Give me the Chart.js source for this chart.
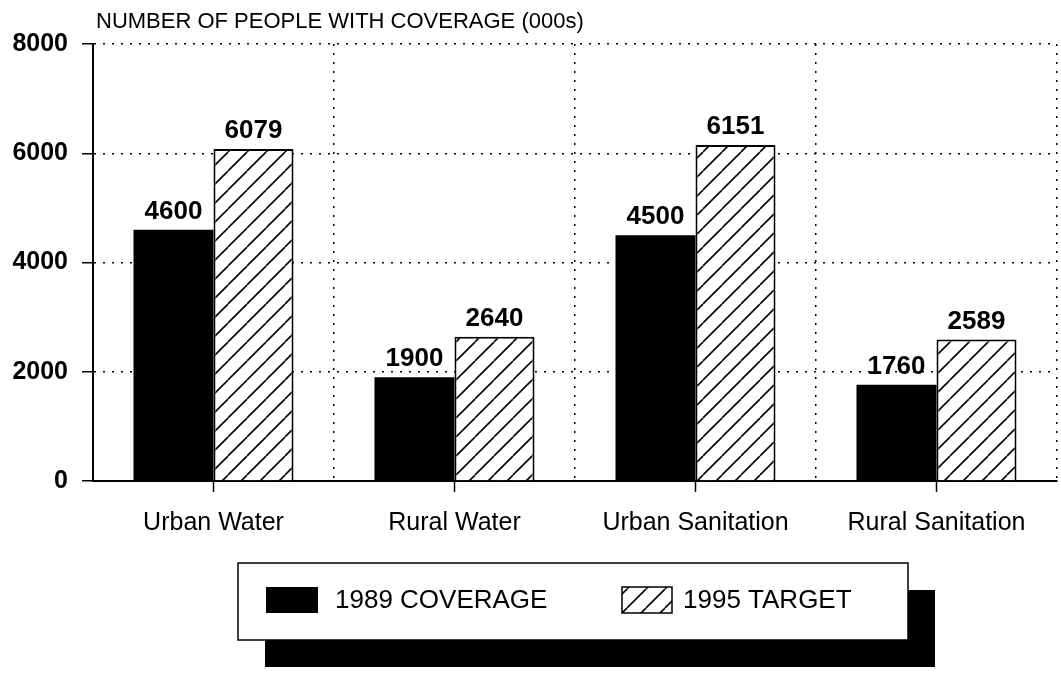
<!DOCTYPE html>
<html>
<head>
<meta charset="utf-8">
<script src="https://cdn.jsdelivr.net/npm/chart.js@4"></script>
<style>
  html, body { margin: 0; padding: 0; background: #fff; }
  #wrap { width: 1061px; height: 674px; }
</style>
</head>
<body>
<div id="wrap"><canvas id="coverageChart" width="1061" height="674"></canvas></div>
<script>
const categories = ['Urban Water', 'Rural Water', 'Urban Sanitation', 'Rural Sanitation'];
const coverage1989 = [4600, 1900, 4500, 1760];
const target1995 = [6079, 2640, 6151, 2589];
const yTicks = [0, 2000, 4000, 6000, 8000];
const chartTitle = 'NUMBER OF PEOPLE WITH COVERAGE (000s)';

const FONT = '"Liberation Sans", Arial, Helvetica, sans-serif';

// diagonal hatch for the target bars
function hatch() {
  const s = 19;
  const p = document.createElement('canvas');
  p.width = s; p.height = s;
  const g = p.getContext('2d');
  g.fillStyle = '#fff';
  g.fillRect(0, 0, s, s);
  g.strokeStyle = '#000';
  g.lineWidth = 1.6;
  for (const k of [-s, 0, s]) {
    g.beginPath();
    g.moveTo(k, s);
    g.lineTo(k + s, 0);
    g.stroke();
  }
  return g.createPattern(p, 'repeat');
}
const hatchFill = hatch();

// title, value labels, x tick marks and the boxed legend
const extras = {
  id: 'extras',
  afterDatasetsDraw(chart) {
    const ctx = chart.ctx;
    const area = chart.chartArea;
    ctx.save();
    ctx.fillStyle = '#000';
    ctx.font = '22px ' + FONT;
    ctx.textAlign = 'left';
    ctx.textBaseline = 'alphabetic';
    ctx.fillText(chartTitle, area.left + 3, 28);

    ctx.font = 'bold 26px ' + FONT;
    ctx.textAlign = 'center';
    chart.data.datasets.forEach((ds, i) => {
      chart.getDatasetMeta(i).data.forEach((bar, j) => {
        ctx.fillText(String(ds.data[j]), bar.x, bar.y - 11);
      });
    });

    const xs = chart.scales.x;
    ctx.strokeStyle = '#000';
    ctx.lineWidth = 1.5;
    categories.forEach((c, i) => {
      const x = xs.getPixelForValue(i);
      ctx.beginPath();
      ctx.moveTo(x, area.bottom);
      ctx.lineTo(x, area.bottom + 11);
      ctx.stroke();
    });
    ctx.restore();
  },
  afterDraw(chart) {
    const ctx = chart.ctx;
    const left = chart.chartArea.left + 145;
    const top = chart.chartArea.bottom + 82;
    const w = 670, h = 77, off = 27;
    ctx.save();
    ctx.fillStyle = '#000';
    ctx.fillRect(left + off, top + off, w, h);
    ctx.fillStyle = '#fff';
    ctx.fillRect(left, top, w, h);
    ctx.strokeStyle = '#000';
    ctx.lineWidth = 1.5;
    ctx.strokeRect(left, top, w, h);

    const items = [
      { x: left + 28, bw: 52, textX: left + 97 },
      { x: left + 384, bw: 50, textX: left + 445 }
    ];
    const midY = top + 37;
    ctx.font = '26px ' + FONT;
    ctx.textBaseline = 'middle';
    ctx.textAlign = 'left';
    chart.data.datasets.forEach((ds, i) => {
      const it = items[i];
      ctx.fillStyle = ds.backgroundColor;
      ctx.fillRect(it.x, midY - 13, it.bw, 26);
      if (ds.borderWidth) {
        ctx.lineWidth = 1.5;
        ctx.strokeRect(it.x, midY - 13, it.bw, 26);
      }
      ctx.fillStyle = '#000';
      ctx.fillText(ds.label, it.textX, midY + 1);
    });
    ctx.restore();
  }
};

new Chart(document.getElementById('coverageChart'), {
  type: 'bar',
  data: {
    labels: categories,
    datasets: [
      {
        label: '1989 COVERAGE',
        data: coverage1989,
        backgroundColor: '#000',
        borderWidth: 0,
        barPercentage: 1,
        categoryPercentage: 0.664
      },
      {
        label: '1995 TARGET',
        data: target1995,
        backgroundColor: hatchFill,
        borderColor: '#000',
        borderWidth: 2,
        barPercentage: 1,
        categoryPercentage: 0.664
      }
    ]
  },
  options: {
    responsive: false,
    animation: false,
    layout: { padding: { top: 44, right: 4, bottom: 133, left: 0 } },
    plugins: {
      legend: { display: false },
      tooltip: { enabled: false }
    },
    scales: {
      x: {
        grid: {
          offset: true,
          drawTicks: false,
          color: (c) => (c.index === 0 || c.index === categories.length) ? 'rgba(0,0,0,0)' : '#000',
          lineWidth: 1.5
        },
        // dash here styles the dotted grid lines; the axis line stays solid
        border: { display: true, color: '#000', width: 2, dash: [2, 7] },
        ticks: {
          color: '#000',
          padding: 27,
          font: { family: FONT, size: 25 }
        },
        afterFit: (s) => { s.height = 60; }
      },
      y: {
        min: 0,
        max: 8000,
        afterBuildTicks: (s) => { s.ticks = yTicks.map(v => ({ value: v })); },
        grid: {
          color: '#000',
          lineWidth: 1.5,
          tickLength: 11,
          tickBorderDash: [],
          tickWidth: 1.5
        },
        border: { display: true, color: '#000', width: 2, dash: [2, 7] },
        ticks: {
          color: '#000',
          padding: 14,
          font: { family: FONT, size: 25, weight: 'bold' },
          callback: (v) => String(v)
        },
        afterFit: (s) => { s.width = 93; }
      }
    }
  },
  plugins: [extras]
});
</script>
</body>
</html>
